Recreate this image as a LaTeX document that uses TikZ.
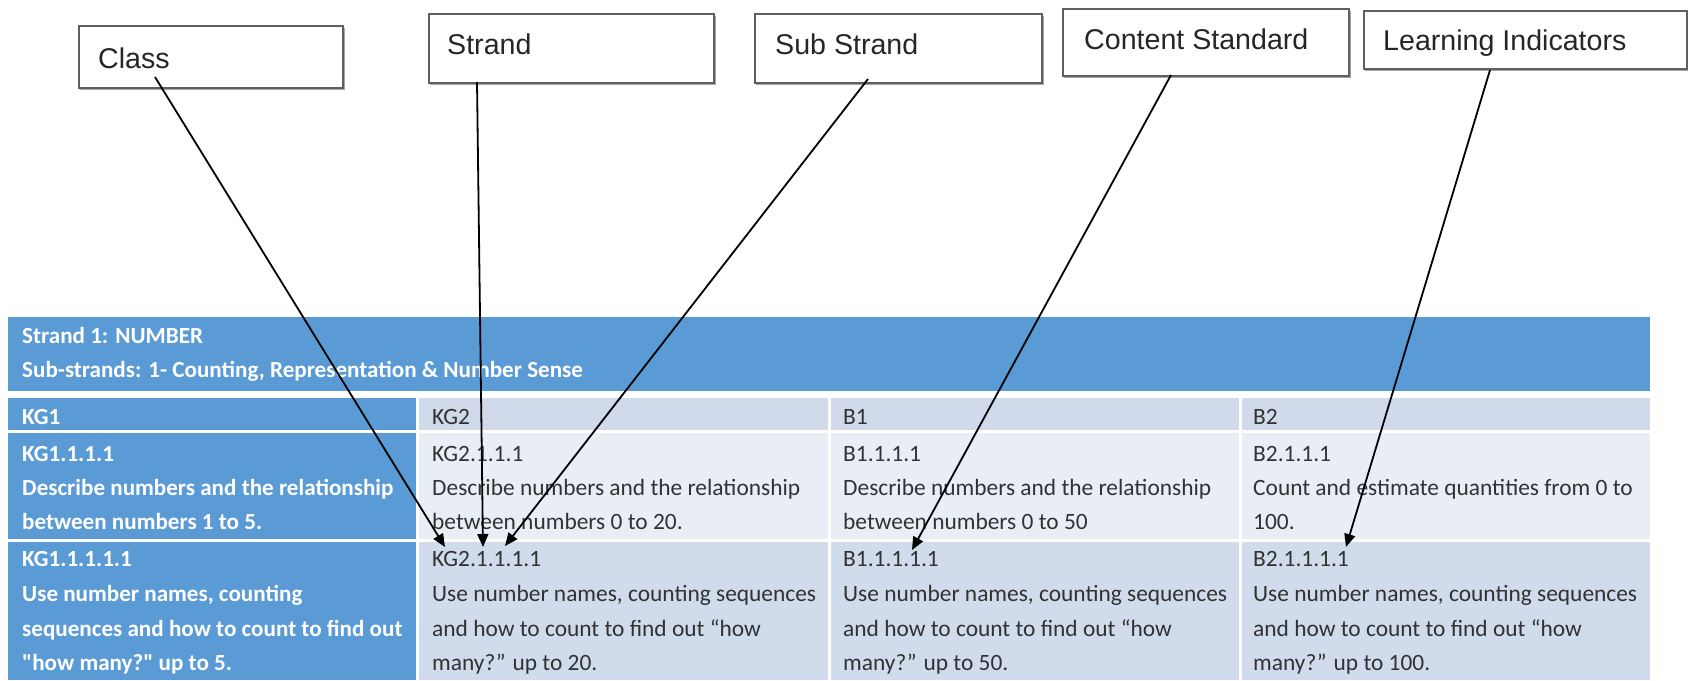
\documentclass[tikz,border=0pt]{standalone}
\usepackage{fontspec}
\setmainfont{Carlito}
\newfontfamily\arialf{Liberation Sans}
\usetikzlibrary{arrows.meta}
\definecolor{hdrblue}{RGB}{91,155,213}
\definecolor{rowA}{RGB}{208,218,234}
\definecolor{rowB}{RGB}{233,238,246}
\definecolor{rowC}{RGB}{208,219,236}
\definecolor{txtdark}{RGB}{50,50,50}
\definecolor{boxline}{RGB}{95,95,95}
\definecolor{boxshadow}{RGB}{165,165,165}
\begin{document}
\begin{tikzpicture}[x=1pt,y=-1pt,
  lblbox/.style={draw=boxline, line width=1.5pt, fill=white, inner sep=0pt, anchor=north west},
  lbltext/.style={anchor=base west, inner sep=0pt, font=\arialf\fontsize{28.6}{30}\selectfont, text=black!85},
  celltxt/.style={anchor=base west, inner sep=0pt, font=\fontsize{23.4}{28}\selectfont, text=txtdark},
  celltxtw/.style={anchor=base west, inner sep=0pt, font=\bfseries\fontsize{23.1}{28}\selectfont, text=white},
  pointer/.style={draw=black, line width=1.8pt, -{Triangle[length=13pt,width=11pt]}}
]
\useasboundingbox (0,0) rectangle (1688,680);
\fill[white] (0,0) rectangle (1688,680);

% ---------- label boxes ----------
\fill[boxshadow] (80,28) rectangle (345,90);
\node[lblbox, minimum width=264pt, minimum height=62pt] (classbox) at (78,25) {};
\node[lbltext] (classtxt) at (98,68) {Class};

\fill[boxshadow] (430,16) rectangle (716,85);
\node[lblbox, minimum width=285pt, minimum height=69pt] (strandbox) at (428,13) {};
\node[lbltext] (strandtxt) at (447,54) {Strand};

\fill[boxshadow] (756,16) rectangle (1044,85);
\node[lblbox, minimum width=287pt, minimum height=69pt] (subbox) at (754,13) {};
\node[lbltext] (subtxt) at (775,54) {Sub Strand};

\fill[boxshadow] (1064,11) rectangle (1351,78);
\node[lblbox, minimum width=286pt, minimum height=67pt] (contbox) at (1062,8) {};
\node[lbltext] (conttxt) at (1084,49) {Content Standard};

\fill[boxshadow] (1365,13) rectangle (1688,71);
\node[lblbox, minimum width=323pt, minimum height=58pt] (learnbox) at (1363,10) {};
\node[lbltext] (learntxt) at (1383,50) {Learning Indicators};

% ---------- table backgrounds ----------
\fill[hdrblue] (8,317) rectangle (1650,391);
\fill[hdrblue] (8,398) rectangle (416,430);
\fill[rowA] (419,398) rectangle (828,430);
\fill[rowA] (831,398) rectangle (1239,430);
\fill[rowA] (1242,398) rectangle (1650,430);
\fill[hdrblue] (8,433) rectangle (416,539);
\fill[rowB] (419,433) rectangle (828,539);
\fill[rowB] (831,433) rectangle (1239,539);
\fill[rowB] (1242,433) rectangle (1650,539);
\fill[hdrblue] (8,542) rectangle (416,680);
\fill[rowC] (419,542) rectangle (828,680);
\fill[rowC] (831,542) rectangle (1239,680);
\fill[rowC] (1242,542) rectangle (1650,680);

% ---------- header text ----------
\node[celltxtw] (h1) at (22,343) {Strand 1: NUMBER};
\node[celltxtw] (h2) at (22,377) {Sub-strands: 1- Counting, Representation \& Number Sense};

% ---------- row 1 ----------
\node[celltxtw] (r1a) at (22,424) {KG1};
\node[celltxt] (r1b) at (432,424) {KG2};
\node[celltxt] (r1c) at (843,424) {B1};
\node[celltxt] (r1d) at (1253,424) {B2};

% ---------- row 2 ----------
\node[celltxtw] (r2a1) at (22,461) {KG1.1.1.1};
\node[celltxtw] (r2a2) at (22,495) {Describe numbers and the relationship};
\node[celltxtw] (r2a3) at (22,529) {between numbers 1 to 5.};
\node[celltxt] (r2b1) at (432,461) {KG2.1.1.1};
\node[celltxt] (r2b2) at (432,495) {Describe numbers and the relationship};
\node[celltxt] (r2b3) at (432,529) {between numbers 0 to 20.};
\node[celltxt] (r2c1) at (843,461) {B1.1.1.1};
\node[celltxt] (r2c2) at (843,495) {Describe numbers and the relationship};
\node[celltxt] (r2c3) at (843,529) {between numbers 0 to 50};
\node[celltxt] (r2d1) at (1253,461) {B2.1.1.1};
\node[celltxt] (r2d2) at (1253,495) {Count and estimate quantities from 0 to};
\node[celltxt] (r2d3) at (1253,529) {100.};

% ---------- row 3 ----------
\node[celltxtw] (r3a1) at (22,566) {KG1.1.1.1.1};
\node[celltxtw] (r3a2) at (22,601) {Use number names, counting};
\node[celltxtw] (r3a3) at (22,636) {sequences and how to count to find out};
\node[celltxtw] (r3a4) at (22,670) {\textquotedbl how many?\textquotedbl\ up to 5.};
\node[celltxt] (r3b1) at (432,566) {KG2.1.1.1.1};
\node[celltxt] (r3b2) at (432,601) {Use number names, counting sequences};
\node[celltxt] (r3b3) at (432,636) {and how to count to find out “how};
\node[celltxt] (r3b4) at (432,670) {many?” up to 20.};
\node[celltxt] (r3c1) at (843,566) {B1.1.1.1.1};
\node[celltxt] (r3c2) at (843,601) {Use number names, counting sequences};
\node[celltxt] (r3c3) at (843,636) {and how to count to find out “how};
\node[celltxt] (r3c4) at (843,670) {many?” up to 50.};
\node[celltxt] (r3d1) at (1253,566) {B2.1.1.1.1};
\node[celltxt] (r3d2) at (1253,601) {Use number names, counting sequences};
\node[celltxt] (r3d3) at (1253,636) {and how to count to find out “how};
\node[celltxt] (r3d4) at (1253,670) {many?” up to 100.};

% ---------- connectors ----------
\coordinate (classS) at (155,77);
\coordinate (classE) at (445,547);
\coordinate (strandS) at (477,82);
\coordinate (strandE) at (483,547);
\coordinate (subS) at (868,79);
\coordinate (subE) at (505,546);
\coordinate (contS) at (1171,75);
\coordinate (contE) at (912,550);
\coordinate (learnS) at (1490,70);
\coordinate (learnE) at (1346,547);
\draw[pointer] (classS) -- (classE);
\draw[pointer] (strandS) -- (strandE);
\draw[pointer] (subS) -- (subE);
\draw[pointer] (contS) -- (contE);
\draw[pointer] (learnS) -- (learnE);
\end{tikzpicture}
\end{document}
